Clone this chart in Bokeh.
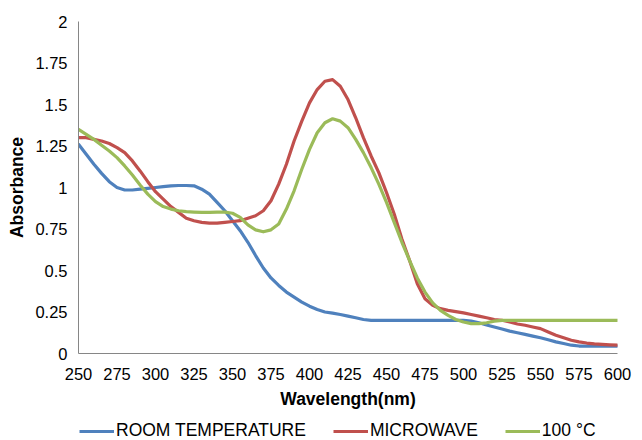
from bokeh.plotting import figure
from bokeh.models import Range1d, FixedTicker, Legend, LegendItem
from bokeh.layouts import column
from bokeh.embed import file_html
from bokeh.resources import INLINE

# Wavelength (nm), every 5 nm
wavelength = list(range(250, 605, 5))

room_temperature = [
    1.26, 1.20, 1.14, 1.085, 1.035, 1.00, 0.985, 0.985, 0.99, 0.995,
    1.00, 1.005, 1.01, 1.012, 1.012, 1.01, 0.99, 0.96, 0.91, 0.86,
    0.80, 0.74, 0.67, 0.59, 0.515, 0.455, 0.41, 0.37, 0.34, 0.31,
    0.285, 0.265, 0.25, 0.243, 0.235, 0.225, 0.215, 0.205, 0.20, 0.20,
    0.20, 0.20, 0.20, 0.20, 0.20, 0.20, 0.20, 0.20, 0.20, 0.20,
    0.20, 0.195, 0.185, 0.172, 0.16, 0.148, 0.135, 0.125, 0.115, 0.105,
    0.095, 0.083, 0.07, 0.06, 0.05, 0.045, 0.045, 0.045, 0.045, 0.045,
    0.045]

microwave = [
    1.30, 1.30, 1.29, 1.28, 1.265, 1.24, 1.21, 1.16, 1.10, 1.035,
    0.975, 0.93, 0.885, 0.85, 0.815, 0.80, 0.79, 0.785, 0.785, 0.79,
    0.795, 0.80, 0.815, 0.83, 0.86, 0.92, 1.02, 1.14, 1.28, 1.40,
    1.51, 1.59, 1.64, 1.65, 1.61, 1.53, 1.42, 1.30, 1.19, 1.09,
    0.97, 0.84, 0.69, 0.56, 0.42, 0.33, 0.29, 0.27, 0.26, 0.252,
    0.245, 0.235, 0.225, 0.215, 0.205, 0.20, 0.19, 0.178, 0.17, 0.16,
    0.15, 0.13, 0.11, 0.095, 0.08, 0.07, 0.063, 0.058, 0.055, 0.052,
    0.05]

hundred_c = [
    1.35, 1.32, 1.29, 1.255, 1.22, 1.18, 1.13, 1.075, 1.015, 0.96,
    0.915, 0.885, 0.87, 0.86, 0.855, 0.852, 0.85, 0.85, 0.852, 0.852,
    0.845, 0.82, 0.775, 0.745, 0.733, 0.745, 0.78, 0.87, 0.98, 1.11,
    1.23, 1.33, 1.39, 1.414, 1.40, 1.36, 1.29, 1.21, 1.12, 1.02,
    0.91, 0.79, 0.67, 0.56, 0.455, 0.37, 0.305, 0.26, 0.23, 0.205,
    0.19, 0.18, 0.18, 0.185, 0.195, 0.20, 0.20, 0.20, 0.20, 0.20,
    0.20, 0.20, 0.20, 0.20, 0.20, 0.20, 0.20, 0.20, 0.20, 0.20,
    0.20]

series_names = ["ROOM TEMPERATURE", "MICROWAVE", "100 °C"]
series_colors = ["#4F81BD", "#C0504D", "#9BBB59"]

x_ticks = list(range(250, 601, 25))
y_ticks = [0, 0.25, 0.5, 0.75, 1, 1.25, 1.5, 1.75, 2]
y_tick_labels = ["0", "0.25", "0.5", "0.75", "1", "1.25", "1.5", "1.75", "2"]

FONT = "Liberation Sans"
W = 640
H_MAIN = 412
H_LEG = 27

p = figure(width=W, height=H_MAIN, output_backend="svg", toolbar_location=None,
           x_range=Range1d(250, 600), y_range=Range1d(0, 2),
           min_border_left=78, min_border_right=W - 617, min_border_top=21,
           min_border_bottom=H_MAIN - 353)
p.outline_line_color = None
p.grid.visible = False
p.background_fill_color = "white"
p.border_fill_color = "white"

for ys, c in zip([room_temperature, microwave, hundred_c], series_colors):
    p.line(wavelength, ys, line_color=c, line_width=3.2, line_join="round", line_cap="round")

for ax in (p.xaxis[0], p.yaxis[0]):
    ax.axis_line_color = "#868686"
    ax.axis_line_width = 1
    ax.major_tick_line_color = None
    ax.minor_tick_line_color = None
    ax.major_tick_out = 0
    ax.major_tick_in = 0
    ax.major_label_text_font = FONT
    ax.major_label_text_font_size = "16.5px"
    ax.major_label_text_color = "black"
    ax.axis_label_text_font = FONT
    ax.axis_label_text_font_style = "bold"
    ax.axis_label_text_font_size = "17.5px"
    ax.axis_label_text_color = "black"

p.xaxis.ticker = FixedTicker(ticks=x_ticks)
p.yaxis.ticker = FixedTicker(ticks=y_ticks)
p.yaxis.major_label_overrides = {t: l for t, l in zip(y_ticks, y_tick_labels)}
p.xaxis.axis_label = "Wavelength(nm)"
p.yaxis.axis_label = "Absorbance"
p.xaxis.major_label_standoff = 14
p.xaxis.axis_label_standoff = 6
p.yaxis.major_label_standoff = 11
p.yaxis.axis_label_standoff = 5

# Legend strip below the chart; its lines reuse the series data (outside the strip's view)
pl = figure(width=W, height=H_LEG, output_backend="svg", toolbar_location=None,
            x_range=Range1d(0, 1), y_range=Range1d(10, 11),
            x_axis_location=None, y_axis_location=None, min_border=0)
pl.outline_line_color = None
pl.grid.visible = False
pl.background_fill_color = "white"
pl.border_fill_color = "white"
leg_renderers = [pl.line(wavelength, ys, line_color=c, line_width=3.2)
                 for ys, c in zip([room_temperature, microwave, hundred_c], series_colors)]

legend = Legend(items=[LegendItem(label=n, renderers=[r]) for n, r in zip(series_names, leg_renderers)],
                orientation="horizontal", location=(1, -2),
                label_text_font=FONT, label_text_font_size="17.5px", label_text_color="black",
                glyph_width=35, glyph_height=18, label_standoff=2, spacing=27,
                padding=0, margin=0, border_line_color=None, background_fill_alpha=0)
pl.add_layout(legend, "center")

layout = column(p, pl, spacing=0)
open("out.html", "w").write(file_html(layout, INLINE))
